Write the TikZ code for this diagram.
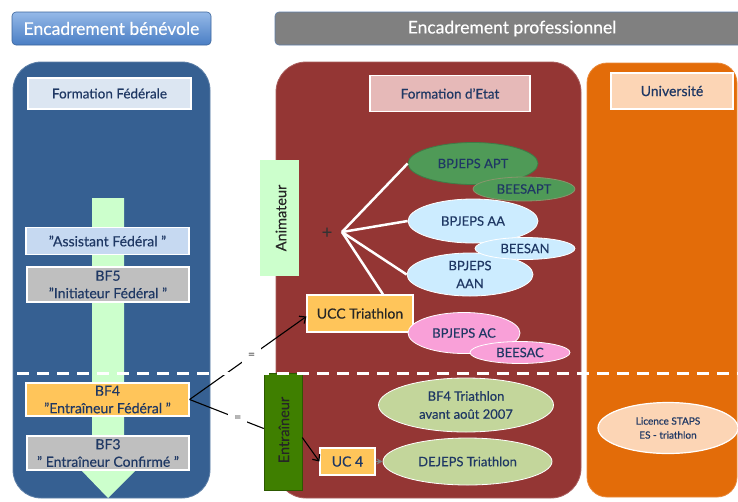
\documentclass[tikz,border=0pt]{standalone}
\usepackage{fontspec}
\setmainfont{Lato}[FakeBold=0.35]
\usetikzlibrary{shapes.geometric,arrows.meta}
\definecolor{bluepanel}{HTML}{366092}
\definecolor{redpanel}{HTML}{943634}
\definecolor{orpanel}{HTML}{E36C09}
\definecolor{ffbox}{HTML}{DCE6F2}
\definecolor{assbox}{HTML}{C6D9F1}
\definecolor{graybox}{HTML}{BFBFBF}
\definecolor{orbox}{HTML}{FFC55A}
\definecolor{etatbox}{HTML}{E6B9B8}
\definecolor{peach}{HTML}{FCD5B5}
\definecolor{lgreen}{HTML}{CCFFCC}
\definecolor{dgreen}{HTML}{3F7F00}
\definecolor{mgreen}{HTML}{4F9A57}
\definecolor{lblue}{HTML}{CCECFF}
\definecolor{pink}{HTML}{F9A0D8}
\definecolor{olive}{HTML}{C3D69B}
\definecolor{navy}{HTML}{1F3864}
\definecolor{hdrtop}{HTML}{95B9E8}
\definecolor{hdrbot}{HTML}{4A7EC4}
\begin{document}
\begin{tikzpicture}[x=1pt,y=-1pt,
  panel/.style={rectangle,draw=#1!80!white,line width=0.8pt,fill=#1,inner sep=0pt},
  tbox/.style={rectangle,draw=white,line width=1.2pt,inner sep=0pt,align=center,text=navy,font=\fontsize{13.5}{17}\selectfont},
  ell/.style={ellipse,draw=white,line width=0.8pt,inner sep=0pt,align=center,text=navy,font=\fontsize{13}{18}\selectfont},
  eqlab/.style={fill=white,inner sep=6pt,text=black!65,font=\fontsize{12}{12}\selectfont},
  arr/.style={-{Straight Barb[length=5pt,width=9pt,line width=1.2pt]},line width=1.1pt,black}
]
\useasboundingbox (0,0) rectangle (738,501);
\fill[white] (0,0) rectangle (738,501);
% headers
\node[rectangle,rounded corners=4pt,draw=hdrbot!80!black,line width=0.6pt,top color=hdrtop,bottom color=hdrbot,minimum width=199pt,minimum height=33pt,inner sep=0pt,text=white,font=\fontsize{17.5}{19}\selectfont] (hb) at (111.5,28.5) {Encadrement bénévole};
\node[rectangle,rounded corners=4pt,draw=hdrbot!60!gray,line width=0.6pt,fill=black!50,minimum width=470pt,minimum height=33pt,inner sep=0pt] (hp) at (510,28.5) {};
\node[text=white,font=\fontsize{17.5}{19}\selectfont] (hpt) at (512,28.5) {Encadrement professionnel};
% panels
\node[panel=bluepanel,rounded corners=28pt,minimum width=197pt,minimum height=436pt] (pb) at (111.5,280) {};
\node[panel=redpanel,rounded corners=30pt,minimum width=305pt,minimum height=436pt] (pr) at (428.5,280) {};
\node[panel=orpanel,rounded corners=20pt,minimum width=150pt,minimum height=434pt] (po) at (662,280) {};
% green arrow
\fill[lgreen] (92,198) -- (124,198) -- (124,469) -- (137,469) -- (108,498) -- (80,469) -- (92,469) -- cycle;
% title boxes
\node[tbox,fill=ffbox,minimum width=163pt,minimum height=31pt] (ff) at (109.5,93.5) {Formation Fédérale};
\node[tbox,fill=etatbox,minimum width=160pt,minimum height=36pt] (fe) at (450,93.5) {Formation d'Etat};
\node[tbox,fill=peach,minimum width=122pt,minimum height=36pt,font=\fontsize{14}{17}\selectfont] (uni) at (672,91) {Université};
% left boxes
\node[tbox,fill=assbox,minimum width=163pt,minimum height=27pt,font=\fontsize{14}{17}\selectfont] (ass) at (107.5,241) {"Assistant Fédéral "};
\node[tbox,fill=graybox,minimum width=162pt,minimum height=35pt,font=\fontsize{14}{17.5}\selectfont] (bf5) at (108,284.5) {BF5\\"Initiateur Fédéral "};
\node[tbox,fill=orbox,minimum width=163pt,minimum height=33pt,font=\fontsize{14}{17.5}\selectfont] (bf4) at (107.5,399.5) {BF4\\"Entraîneur Fédéral "};
\node[tbox,fill=graybox,minimum width=162pt,minimum height=34pt,font=\fontsize{14}{17.5}\selectfont] (bf3) at (108,453) {BF3\\" Entraîneur Confirmé "};
% Animateur / Entraineur
\node[rectangle,fill=lgreen,minimum width=39pt,minimum height=116pt,inner sep=0pt] (anim) at (279.5,218) {};
\node[rotate=90,text=black!85,font=\fontsize{14.5}{16}\selectfont] (animt) at (281,218) {Animateur};
\node[rectangle,fill=dgreen,draw=dgreen!70!black,line width=0.5pt,minimum width=38pt,minimum height=117pt,inner sep=0pt] (entr) at (283,431.5) {};
\node[rotate=90,text=black!85,font=\fontsize{14.5}{16}\selectfont] (entrt) at (284,430) {Entraîneur};
% plus and fan
\node[text=black!80,font=\fontsize{18}{18}\selectfont] (plus) at (327,233) {+};
\coordinate (fan) at (342,232);
% ellipses
\node[ell,fill=mgreen,draw=mgreen!80!black,minimum width=130pt,minimum height=42pt] (apt) at (473,163.5) {BPJEPS APT};
\node[ell,fill=mgreen,draw=olive!70!black,minimum width=102pt,minimum height=24pt] (beesapt) at (524,189) {BEESAPT};
\node[ell,fill=lblue,minimum width=130pt,minimum height=44pt] (aa) at (473,221) {BPJEPS AA};
\node[ell,fill=lblue,minimum width=126pt,minimum height=43pt] (aan) at (470,274.5) {BPJEPS\\AAN};
\node[ell,fill=lblue,minimum width=100pt,minimum height=22pt] (beesan) at (525,248.5) {BEESAN};
\node[tbox,fill=orbox,text=black!85,minimum width=106pt,minimum height=37pt,font=\fontsize{14}{16}\selectfont] (ucc) at (360,313.5) {UCC Triathlon};
\node[ell,fill=pink,minimum width=112pt,minimum height=41pt] (ac) at (464,333) {BPJEPS AC};
\node[ell,fill=pink,minimum width=100pt,minimum height=22pt] (beesac) at (520,352.5) {BEESAC};
\node[ell,fill=olive,minimum width=175pt,minimum height=54pt,font=\fontsize{13}{18}\selectfont] (bf4t) at (466,405) {BF4 Triathlon\\avant août 2007};
\node[tbox,fill=orbox,minimum width=55pt,minimum height=27pt,font=\fontsize{14}{16}\selectfont] (uc4) at (347.5,461.5) {UC 4};
\node[ell,fill=olive,minimum width=169pt,minimum height=47pt,font=\fontsize{13}{15}\selectfont] (dej) at (467.5,461.5) {DEJEPS Triathlon};
\node[ell,fill=peach,line width=1.2pt,minimum width=140pt,minimum height=51pt,font=\fontsize{10}{14}\selectfont] (lic) at (668,428) {Licence STAPS\\ES - triathlon};
% fan lines
\draw[white,line width=2.5pt] (fan) -- (apt.west);
\draw[white,line width=2.5pt] (fan) -- (aa.west);
\draw[white,line width=2.5pt] (fan) -- (aan.west);
\draw[white,line width=2.5pt] (fan) -- ([xshift=23pt]ucc.north);
% connectors
\draw[arr] (bf4.east) -- node[eqlab,pos=0.53] (eq1) {=} ([yshift=-3pt]ucc.west);
\draw[line width=1.1pt,black] (bf4.east) -- node[eqlab,pos=0.65] (eq2) {=} ([yshift=3pt]entr.west);
\draw[arr] ([yshift=-6pt]entr.east) -- (uc4.west);
\draw[-{Stealth[length=6pt,width=6pt]},line width=1.2pt,black!50] (uc4.east) -- (dej.west);
% dashed separator
\draw[white,line width=2.5pt,dash pattern=on 12pt off 8pt] (17,373.5) -- (738,373.5);
\end{tikzpicture}
\end{document}
